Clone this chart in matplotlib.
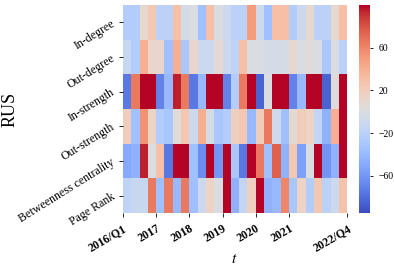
import matplotlib
matplotlib.use('Agg')
from matplotlib import pyplot as plt
import numpy as np
import pandas as pd
import seaborn as sns

plt.rcParams['font.family'] = ['Liberation Serif', 'DejaVu Serif']
plt.rcParams['mathtext.fontset'] = 'stix'

measures = ['In-degree', 'Out-degree', 'In-strength', 'Out-strength',
            'Betweenness centrality', 'Page Rank']

in_degree = [-25, -25, 10, 25, -20, -20, 30, -5, 0, -35, 30, 0, -10, -20,
             -20, 50, -8, -35, 30, 30, -25, -10, 10, -20, -20, 10, 30]
out_degree = [-12, -25, 40, 12, 12, -35, 40, -30, 12, -10, -10, 8, -10, -18,
              30, 0, 0, -5, -5, -3, 10, 0, 5, 0, -30, 0, -20]
in_strength = [-75, 65, 100, 100, -70, -40, 95, 65, -75, -40, 100, 100, -70, -25,
               65, 100, -85, 0, 100, 100, -70, -40, 100, 100, -85, 5, 100]
out_strength = [20, -35, 55, 15, -25, -30, 5, 25, -10, 40, -3, -30, -25, 18,
                25, -40, 20, 65, -8, -35, 8, 20, 15, -15, -45, 40, 100]
betweenness = [-50, -45, 95, 0, 30, -75, 100, 100, -35, -65, 100, -60, 100, -30,
               -75, 100, 65, -35, 75, -45, 25, -55, 0, 100, -60, -45, 100]
page_rank = [-18, -12, -12, 65, -35, 65, -40, 65, -35, -10, 15, 0, 100, -45,
             -15, 18, 100, -45, -40, 60, -30, 15, -25, 25, -20, -10, 28]

tick_pos = [0, 4, 8, 12, 16, 20, 27]
tick_labels = ['2016/Q1', '2017', '2018', '2019', '2020', '2021', '2022/Q4']
cbar_ticks = [-60, -20, 20, 60]

df = pd.DataFrame([in_degree, out_degree, in_strength, out_strength,
                   betweenness, page_rank], index=measures)

fig = plt.figure(figsize=(3.94, 2.67), dpi=100)
ax = fig.add_axes([0.312, 0.202, 0.569, 0.779])
cax = fig.add_axes([0.911, 0.202, 0.028, 0.779])

sns.heatmap(df, ax=ax, cbar_ax=cax, cmap='coolwarm', vmin=-95, vmax=100)

ax.set_xticks(tick_pos)
ax.set_xticklabels(tick_labels, rotation=30, ha='right', fontsize=8.5,
                   fontweight='bold', rotation_mode='anchor')
ax.set_yticks(np.arange(len(measures)) + 0.5)
ax.set_yticklabels(measures, rotation=32, ha='right', fontsize=8.6,
                   rotation_mode='anchor', va='center')
ax.tick_params(axis='both', length=3, width=0.6)
ax.set_xlabel('$t$', fontsize=11)
ax.xaxis.set_label_coords(0.496, -0.19)
ax.set_ylabel('RUS', fontsize=13)
ax.yaxis.set_label_coords(-0.465, 0.5)

cax.set_yticks(cbar_ticks)
cax.set_yticklabels(['\u221260', '\u221220', '20', '60'])
cax.tick_params(labelsize=7, length=2.5, width=0.6)

fig.savefig('out.png', dpi=100)
